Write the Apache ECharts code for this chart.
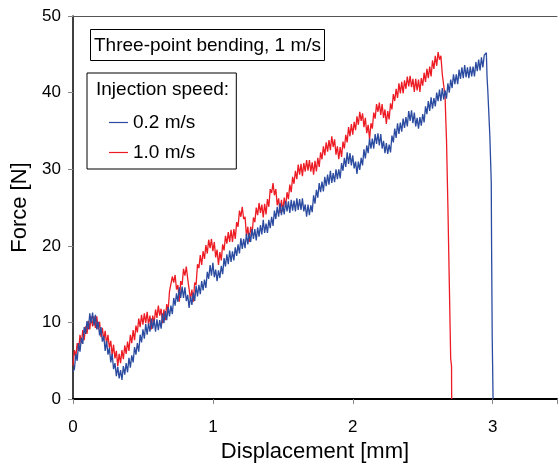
<!DOCTYPE html>
<html>
<head>
<meta charset="utf-8">
<script src="https://cdn.jsdelivr.net/npm/echarts@6/dist/echarts.min.js"></script>
<style>html,body{margin:0;padding:0;background:#fff}#c{width:560px;height:468px}</style>
</head>
<body>
<div id="c"></div>
<script>
// Shared displacement sample grid [mm]
const disp = [
0.00,0.01,0.02,0.03,0.04,0.05,0.06,0.07,0.08,0.09,0.10,0.11,0.12,0.13,0.14,0.15,0.16,0.17,0.18,0.19,
0.20,0.21,0.22,0.23,0.24,0.25,0.26,0.27,0.28,0.29,0.30,0.31,0.32,0.33,0.34,0.35,0.36,0.37,0.38,0.39,
0.40,0.41,0.42,0.43,0.44,0.45,0.46,0.47,0.48,0.49,0.50,0.51,0.52,0.53,0.54,0.55,0.56,0.57,0.58,0.59,
0.60,0.61,0.62,0.63,0.64,0.65,0.66,0.67,0.68,0.69,0.70,0.71,0.72,0.73,0.74,0.75,0.76,0.77,0.78,0.79,
0.80,0.81,0.82,0.83,0.84,0.85,0.86,0.87,0.88,0.89,0.90,0.91,0.92,0.93,0.94,0.95,0.96,0.97,0.98,0.99,
1.00,1.01,1.02,1.03,1.04,1.05,1.06,1.07,1.08,1.09,1.10,1.11,1.12,1.13,1.14,1.15,1.16,1.17,1.18,1.19,
1.20,1.21,1.22,1.23,1.24,1.25,1.26,1.27,1.28,1.29,1.30,1.31,1.32,1.33,1.34,1.35,1.36,1.37,1.38,1.39,
1.40,1.41,1.42,1.43,1.44,1.45,1.46,1.47,1.48,1.49,1.50,1.51,1.52,1.53,1.54,1.55,1.56,1.57,1.58,1.59,
1.60,1.61,1.62,1.63,1.64,1.65,1.66,1.67,1.68,1.69,1.70,1.71,1.72,1.73,1.74,1.75,1.76,1.77,1.78,1.79,
1.80,1.81,1.82,1.83,1.84,1.85,1.86,1.87,1.88,1.89,1.90,1.91,1.92,1.93,1.94,1.95,1.96,1.97,1.98,1.99,
2.00,2.01,2.02,2.03,2.04,2.05,2.06,2.07,2.08,2.09,2.10,2.11,2.12,2.13,2.14,2.15,2.16,2.17,2.18,2.19,
2.20,2.21,2.22,2.23,2.24,2.25,2.26,2.27,2.28,2.29,2.30,2.31,2.32,2.33,2.34,2.35,2.36,2.37,2.38,2.39,
2.40,2.41,2.42,2.43,2.44,2.45,2.46,2.47,2.48,2.49,2.50,2.51,2.52,2.53,2.54,2.55,2.56,2.57,2.58,2.59,
2.60,2.61,2.62,2.63,2.64,2.65,2.66,2.67,2.68,2.69,2.70,2.71,2.72,2.73,2.74,2.75,2.76,2.77,2.78,2.79,
2.80,2.81,2.82,2.83,2.84,2.85,2.86,2.87,2.88,2.89,2.90,2.91,2.92,2.93,2.94];

// Force [N], injection speed 0.2 m/s (0.00-2.94 mm)
const force02 = [
3.6,3.9,5.9,5.0,7.3,6.2,8.0,7.2,9.4,8.5,10.2,9.1,11.2,9.9,11.3,9.6,11.0,9.1,10.1,8.3,
9.4,7.5,8.2,6.3,7.6,5.8,6.7,4.8,5.9,3.9,4.7,3.0,4.2,2.7,3.8,2.5,4.3,3.2,4.7,3.5,
5.4,4.1,5.7,4.8,6.8,5.8,7.3,6.2,8.4,7.4,9.1,7.9,9.8,8.4,9.9,8.8,10.5,9.2,10.4,8.8,
10.4,9.0,10.3,9.2,11.2,9.9,11.5,10.3,12.0,10.8,12.2,11.1,13.2,12.2,13.8,12.7,14.6,13.2,14.7,13.2,
14.6,12.8,13.6,11.9,13.4,12.3,13.9,12.8,14.8,13.4,14.9,13.7,15.4,14.2,15.6,14.5,16.6,15.7,17.5,16.1,
17.8,15.9,16.9,15.4,16.8,15.8,17.4,16.3,18.4,17.3,18.9,17.6,19.4,17.9,19.3,18.1,19.8,18.7,20.2,19.0,
21.0,19.6,20.9,19.7,21.6,20.2,21.7,20.5,22.2,20.9,22.2,20.7,22.4,21.2,22.7,21.5,23.4,21.7,22.9,21.7,
23.4,22.3,23.8,22.6,24.6,23.5,25.1,23.8,25.6,24.0,25.3,24.1,25.8,24.5,25.8,24.3,26.0,24.6,25.9,24.5,
26.2,24.7,26.1,24.7,26.2,24.5,25.4,23.8,25.4,24.0,25.3,24.4,26.6,25.5,27.3,26.3,28.2,27.0,28.4,27.1,
29.0,27.8,29.3,28.0,29.8,28.2,29.5,28.3,30.0,28.7,30.0,28.8,30.8,29.8,31.5,30.3,32.2,30.7,32.1,30.5,
31.8,30.1,31.0,29.4,31.0,29.9,31.5,30.5,32.6,31.4,33.1,32.1,34.0,32.7,34.0,32.7,34.6,33.3,34.7,33.1,
34.6,32.7,33.7,32.1,33.4,32.0,33.2,32.2,34.4,33.5,35.3,34.1,36.0,34.6,36.1,34.9,36.6,35.4,36.8,35.6,
37.6,36.3,37.7,36.0,37.4,35.6,36.7,35.3,36.8,35.7,37.2,36.1,38.2,37.2,38.9,37.6,39.4,37.9,39.3,38.2,
40.0,38.9,40.4,38.9,40.6,39.1,40.3,39.2,41.2,40.0,41.7,40.6,42.4,41.1,42.4,41.1,43.0,41.8,43.3,41.9,
43.6,42.0,43.3,41.9,43.4,42.1,43.4,42.1,44.0,42.8,44.3,42.9,44.6,43.3,44.9];
const dropX02 = [2.955,2.96,2.965,2.98,2.99,2.992,2.997,3.003];
const dropF02 = [45.2,42.0,40.4,34.3,28.3,20.9,7.9,0];

// Force [N], injection speed 1.0 m/s (0.00-2.66 mm)
const force10 = [
4.4,6.4,5.5,7.3,6.3,8.4,7.3,9.0,7.7,9.5,8.5,10.2,9.1,10.8,9.5,10.8,9.3,10.8,9.1,10.1,
8.1,9.3,7.7,8.9,7.2,8.4,6.7,7.6,5.7,7.1,5.3,6.3,4.3,5.9,4.7,6.4,5.2,7.0,5.9,7.5,
6.3,8.4,7.3,9.0,7.7,9.6,8.7,10.5,9.4,11.0,9.7,11.2,9.9,11.4,9.7,10.9,9.1,10.9,9.9,11.7,
10.6,12.2,10.9,11.8,9.9,11.7,10.3,12.4,11.5,14.1,13.9,16.0,15.2,16.2,14.3,14.9,12.7,15.4,14.9,17.0,
16.1,17.3,15.7,15.8,13.0,14.3,12.7,15.2,14.9,17.6,17.1,18.8,17.5,19.3,18.3,20.1,19.0,20.8,19.7,20.9,
19.3,20.5,18.5,19.5,17.5,19.2,18.1,20.2,19.4,21.3,20.3,21.8,20.5,22.1,20.5,22.2,20.9,23.1,22.5,24.6,
23.8,25.1,23.5,23.8,21.3,22.5,20.5,22.5,21.5,23.7,23.1,25.0,24.0,25.6,24.3,25.4,23.7,25.5,24.1,26.1,
25.1,27.4,26.9,28.2,26.6,27.4,25.3,26.2,24.3,26.0,24.5,26.3,25.1,27.0,26.1,28.0,27.0,29.0,28.1,29.8,
28.7,30.6,29.3,30.7,29.1,30.8,29.7,31.2,29.8,31.2,29.7,30.9,29.3,31.1,29.7,31.5,30.3,32.2,31.3,33.0,
31.8,33.5,32.3,33.8,32.5,34.3,32.9,33.9,31.9,33.0,31.3,32.9,31.6,33.6,32.7,34.5,33.5,35.5,34.3,35.9,
34.5,36.2,35.1,36.9,35.8,37.5,36.3,37.3,35.5,36.7,34.7,35.8,33.9,36.0,35.3,37.4,36.6,38.5,37.5,38.7,
37.1,38.5,36.7,37.8,35.9,37.6,36.5,38.6,37.8,39.8,38.9,40.5,39.3,41.2,39.9,41.4,39.9,41.6,40.5,42.1,
40.8,42.2,40.7,41.8,40.1,41.8,40.3,41.7,40.1,41.9,40.9,42.6,41.4,43.1,41.9,43.4,42.1,44.2,43.1,44.8,
43.5,45.3,44.3,44.8,42.4,42.4,39.5];
const dropX10 = [2.665,2.67,2.68,2.69,2.70,2.706,2.707];
const dropF10 = [36.5,33.9,25.2,15.3,5.3,4.3,0];

const xTicks = {min:0, max:3.46, interval:1};
const yTicks = {min:0, max:50, interval:10};
const names = ['0.2 m/s','1.0 m/s'];

function pairs(xs, ys){
  const out = [];
  for (let i = 0; i < ys.length; i++) out.push([xs[i], ys[i]]);
  return out;
}
const data02 = pairs(disp, force02).concat(pairs(dropX02, dropF02));
const data10 = pairs(disp, force10).concat(pairs(dropX10, dropF10));

const FONT = 'Liberation Sans, Arial, Helvetica, sans-serif';
const chart = echarts.init(document.getElementById('c'), null, {renderer:'canvas'});
chart.setOption({
  animation:false,
  backgroundColor:'#fff',
  title:{
    text:'Three-point bending, 1 m/s', left:90, top:29,
    padding:[7,4,6,4], borderColor:'#000', borderWidth:1, backgroundColor:'#fff',
    textStyle:{fontSize:19, fontWeight:'normal', color:'#000', fontFamily:FONT}
  },
  legend:{
    orient:'vertical', left:87, top:73, data:names,
    backgroundColor:'#fff', borderColor:'#000', borderWidth:1,
    padding:[40,41,7,22], itemGap:11, itemWidth:19, itemHeight:1.2, icon:'rect',
    textStyle:{fontSize:19, color:'#000', fontFamily:FONT}
  },
  graphic:[{
    type:'text', left:96, top:80, z:100,
    style:{text:'Injection speed:', fontSize:19, fill:'#000', fontFamily:FONT}
  }],
  grid:{left:73, top:16, right:0, bottom:67, containLabel:false},
  xAxis:[{
    type:'value', min:xTicks.min, max:xTicks.max, interval:xTicks.interval,
    name:'Displacement [mm]', nameLocation:'middle', nameGap:38,
    nameTextStyle:{fontSize:22, color:'#000', fontFamily:FONT},
    axisLine:{onZero:false, lineStyle:{color:'#000', width:2}},
    axisTick:{show:true, inside:false, length:5, lineStyle:{color:'#888', width:1}},
    axisLabel:{fontSize:17, color:'#000', margin:20, fontFamily:FONT,
      formatter:v => (v % 1 === 0 ? String(v) : '')},
    splitLine:{show:false}
  },{
    type:'value', position:'top', min:xTicks.min, max:xTicks.max,
    axisLine:{show:true, onZero:false, lineStyle:{color:'#555', width:1}},
    axisTick:{show:false}, axisLabel:{show:false}, splitLine:{show:false}
  }],
  yAxis:{
    type:'value', min:yTicks.min, max:yTicks.max, interval:yTicks.interval,
    name:'Force [N]', nameLocation:'middle', nameGap:40,
    nameTextStyle:{fontSize:22, color:'#000', fontFamily:FONT},
    axisLine:{show:true, onZero:false, lineStyle:{color:'#000', width:1.5}},
    axisTick:{show:true, inside:false, length:5, lineStyle:{color:'#888', width:1}},
    axisLabel:{fontSize:17, color:'#000', margin:12, fontFamily:FONT},
    splitLine:{show:false}
  },
  series:[
    {name:names[1], type:'line', data:data10, symbol:'none', showSymbol:false,
     lineStyle:{color:'#ED1C24', width:1.3}, itemStyle:{color:'#ED1C24'}, z:2, silent:true},
    {name:names[0], type:'line', data:data02, symbol:'none', showSymbol:false,
     lineStyle:{color:'#2B4BA0', width:1.3}, itemStyle:{color:'#2B4BA0'}, z:3, silent:true}
  ]
});
</script>
</body>
</html>
